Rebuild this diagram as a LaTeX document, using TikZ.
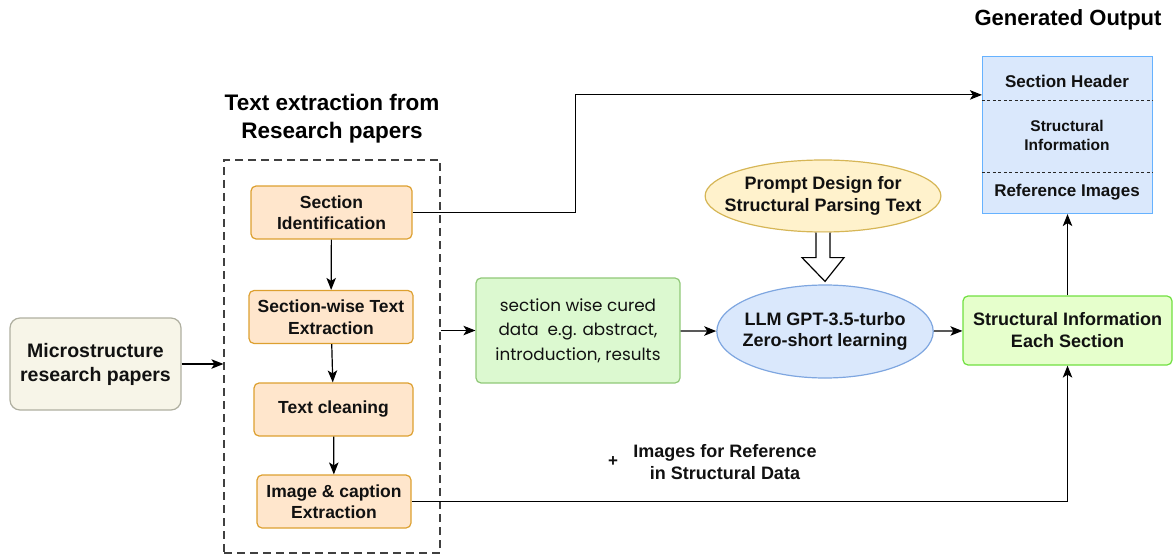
\documentclass[tikz,border=0pt]{standalone}
\usepackage{fontspec}
\setmainfont{Liberation Sans}
\newfontfamily\curedfont{Poppins}
\usepackage{tikz}
\usetikzlibrary{shapes.geometric,calc,arrows.meta}
\definecolor{FontColor}{HTML}{111111}
\definecolor{BeigeNC}{HTML}{F7F5E8}
\definecolor{BeigeLine}{HTML}{AFAFA0}
\definecolor{OrangeNC}{HTML}{FFE6CC}
\definecolor{OrangeLine}{HTML}{DDA030}
\definecolor{GreenNC}{HTML}{DCF9D0}
\definecolor{GreenLine}{HTML}{90C878}
\definecolor{LimeNC}{HTML}{E6FFCC}
\definecolor{LimeLine}{HTML}{70E040}
\definecolor{BlueNC}{HTML}{DAE8FC}
\definecolor{BlueLine}{HTML}{7EA6E0}
\definecolor{SkyLine}{HTML}{66B2FF}
\definecolor{YellowNC}{HTML}{FFF2CC}
\definecolor{YellowLine}{HTML}{D6B656}
\newcommand\nodemrp{Microstructure\\research papers}
\newcommand\nodesi{Section\\Identification}
\newcommand\nodeswte{Section-wise Text\\Extraction}
\newcommand\nodetc{Text cleaning}
\newcommand\nodeice{Image \& caption\\Extraction}
\newcommand\nodecd{section wise cured\\data\ \ e.g. abstract,\\introduction, results}
\newcommand\nodellm{LLM GPT-3.5-turbo\\Zero-short learning}
\newcommand\nodepd{Prompt Design for\\Structural Parsing Text}
\newcommand\nodesies{Structural Information\\Each Section}
\tikzstyle{mynodestyle} = [rectangle, rounded corners=5pt, align=center, text=FontColor, line width=1.2pt, inner sep=0pt]
\tikzstyle{mrp} = [mynodestyle, rounded corners=10pt, draw=BeigeLine, fill=BeigeNC, minimum width=171, minimum height=92, font=\bfseries\fontsize{19.5}{24}\selectfont]
\tikzstyle{orn} = [mynodestyle, draw=OrangeLine, fill=OrangeNC, minimum height=53, font=\bfseries\fontsize{17.5}{21.5}\selectfont]
\tikzstyle{grn} = [mynodestyle, draw=GreenLine, fill=GreenNC, minimum width=204, minimum height=105, font=\curedfont\fontsize{16.8}{24.5}\selectfont]
\tikzstyle{lim} = [mynodestyle, draw=LimeLine, fill=LimeNC, minimum width=209, minimum height=69, font=\bfseries\fontsize{18}{22}\selectfont]
\tikzstyle{ell} = [ellipse, align=center, text=FontColor, line width=1.2pt, inner ysep=0pt, font=\bfseries\fontsize{18}{21.5}\selectfont]
\tikzstyle{otxt} = [align=center, text=FontColor, font=\bfseries\fontsize{17}{20}\selectfont]
\tikzstyle{ttl} = [align=center, text=black, font=\bfseries\fontsize{22.5}{28}\selectfont]
\tikzset{>={Stealth[length=12pt,width=9.5pt,inset=3pt]}, x=1pt, y=-1pt, every picture/.style={line width=1.2pt}}

\begin{document}
\begin{tikzpicture}
\useasboundingbox (0,0) rectangle (1174,556);
\node[ttl] (tt) at (332,119) {Text extraction from\\Research papers};
\node[ttl, font=\bfseries\fontsize{22}{26}\selectfont] (go) at (1068,20) {Generated Output};
\node[draw=black!75, dash pattern=on 8pt off 5pt, minimum width=216, minimum height=393, inner sep=0pt] (box) at (332,356.5) {};
\node[mrp] (mrp) at (95.5,364) {\nodemrp};
\node[orn, minimum width=161] (si) at (331.5,212.5) {\nodesi};
\node[orn, minimum width=164] (swte) at (331,317) {\nodeswte};
\node[orn, minimum width=159] (tc) at (333.5,409.5) {\nodetc};
\node[orn, minimum width=154] (ice) at (334,501.5) {\nodeice};
\node[grn] (cd) at (578,330.5) {\nodecd};
\node[ell, draw=BlueLine, fill=BlueNC, inner xsep=-6pt, minimum height=93] (llm) at (825,331.5) {\nodellm};
\node[ell, draw=YellowLine, fill=YellowNC, inner xsep=-15pt, minimum height=72] (pd) at (823,196) {\nodepd};
\node[lim] (sies) at (1067.5,330.5) {\nodesies};
\node[draw=SkyLine, fill=BlueNC, minimum width=170, minimum height=157, inner sep=0pt] (out) at (1067.5,135) {};
\node[otxt] (hdr) at (1067,81) {Section Header};
\node[otxt, font=\bfseries\fontsize{15.5}{19}\selectfont] (sinf) at (1067,135) {Structural\\Information};
\node[otxt] (rimg) at (1067,192) {Reference Images};
\node[otxt, font=\bfseries\fontsize{18}{22}\selectfont] (imgref) at (725,462) {Images for Reference\\in Structural Data};
\node[otxt, font=\bfseries\fontsize{17}{20}\selectfont] (plus) at (613,462) {+};
\draw [dashed, line width=0.9pt, dash pattern=on 3pt off 2.5pt, black!85] ($(out.north west)+(0,45)$) -- ($(out.north east)+(0,45)$);
\draw [dashed, line width=0.9pt, dash pattern=on 3pt off 2.5pt, black!85] ($(out.north west)+(0,117)$) -- ($(out.north east)+(0,117)$);
\draw [->] (mrp.east) -- (mrp.east -| box.west);
\draw [->] (si) -- (swte);
\draw [->] (swte) -- (tc);
\draw [->] (tc) -- (ice);
\draw [->] (box.east |- cd.west) -- (cd.west);
\draw [->] (cd) -- (llm);
\draw [->] (llm) -- (sies);
\draw [->] (sies) -- (out);
\draw [->] (si.east) -- ++(163,0) |- ($(out.north west)+(0,39)$);
\draw [->] (ice.east) -| (sies.south);
\draw [fill=white, line width=1.2pt] ($(pd.south)+(-7,0)$) -- ++(0,25) -- ++(-14,0) -- ($(llm.north)+(0,-3)$) -- ($(pd.south)+(21,25)$) -- ++(-14,0) -- ($(pd.south)+(7,0)$);
\end{tikzpicture}
\end{document}
